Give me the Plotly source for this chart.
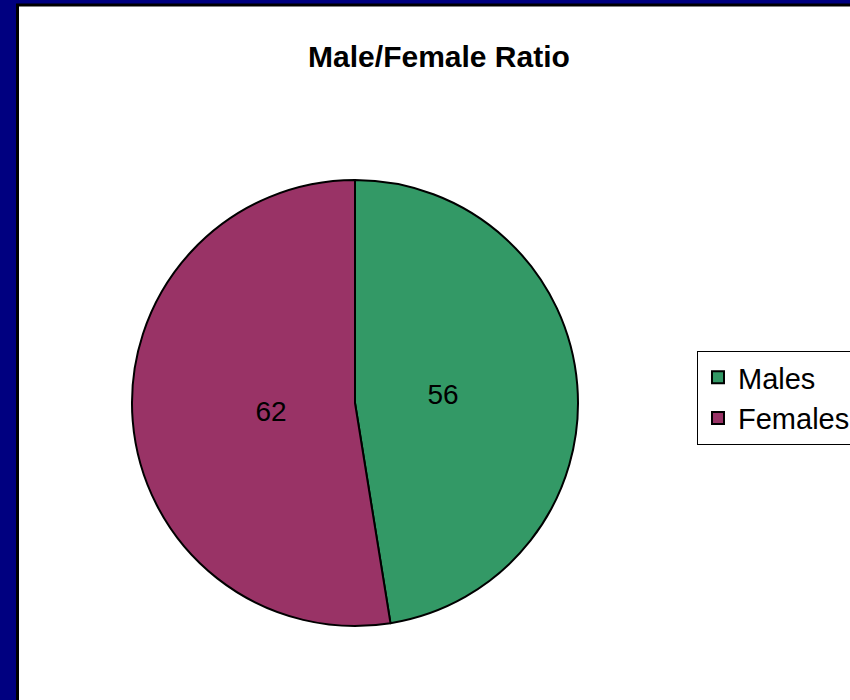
import plotly.graph_objects as go

labels = ["Males", "Females"]
values = [56, 62]
colors = ["#339966", "#993366"]

W, H = 850, 700
cx, cy, r = 355, 403, 223

font = "Liberation Sans, Arial"
pad = "\u00a0"

fig = go.Figure(go.Pie(
    labels=labels,
    values=values,
    marker=dict(colors=colors, line=dict(color="black", width=2)),
    sort=False,
    direction="clockwise",
    rotation=0,
    texttemplate=["%{value}" + pad * 6, pad * 7 + "%{value}"],
    textposition="inside",
    insidetextorientation="horizontal",
    textfont=dict(family=font, size=28, color="black"),
    hoverinfo="label+value",
    domain=dict(x=[(cx - r) / W, (cx + r) / W], y=[(H - cy - r) / H, (H - cy + r) / H]),
))

fig.update_layout(
    width=W, height=H,
    margin=dict(l=0, r=0, t=0, b=0, autoexpand=False),
    paper_bgcolor="#000080",
    plot_bgcolor="white",
    title=dict(text="<b>Male/Female Ratio</b>", x=439 / W, xanchor="center", y=1 - 56 / H, yanchor="middle",
               font=dict(family=font, size=30, color="black")),
    legend=dict(x=697 / W, xanchor="left", y=1 - 351 / H, yanchor="top",
                bgcolor="white", bordercolor="black", borderwidth=1,
                font=dict(family=font, size=29, color="black"),
                tracegroupgap=0),
    shapes=[dict(type="rect", xref="paper", yref="paper", layer="below",
                 x0=17.5 / W, x1=1.05, y0=-0.05, y1=1 - 5 / H,
                 fillcolor="white", line=dict(color="black", width=3))],
)

fig.write_html("out.html", config=dict(displayModeBar=False),
               post_script="document.body.style.margin='0';document.body.style.overflow='hidden';")
